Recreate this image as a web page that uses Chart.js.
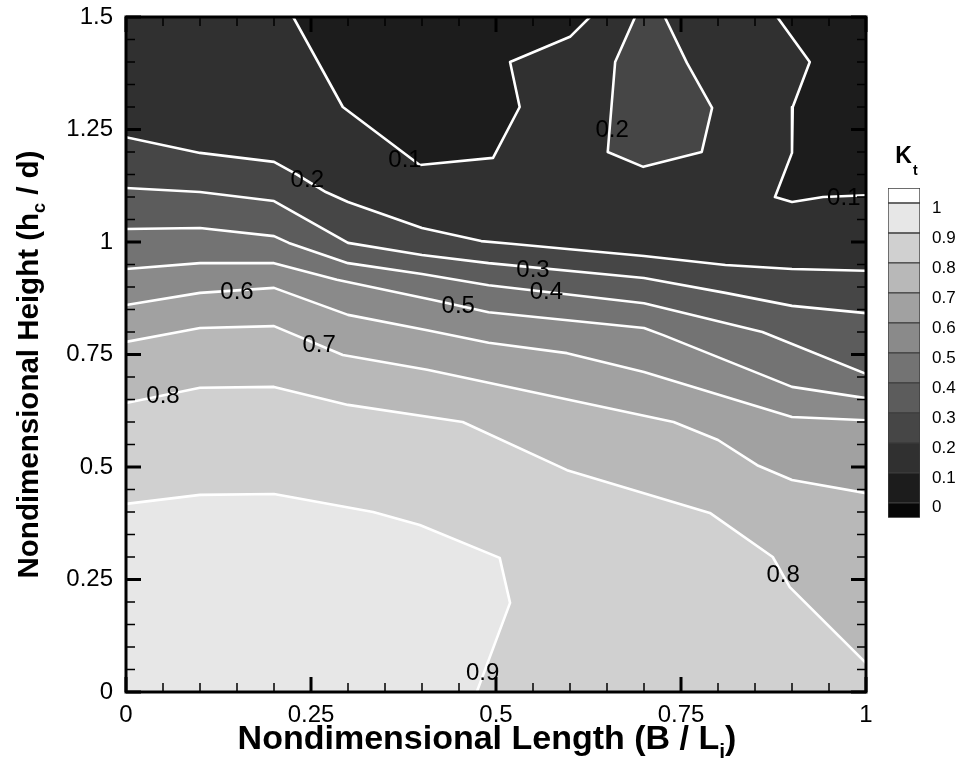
<!DOCTYPE html>
<html>
<head>
<meta charset="utf-8">
<script src="https://cdn.jsdelivr.net/npm/chart.js@4.4.1/dist/chart.umd.min.js"></script>
<style>
  html, body { margin: 0; padding: 0; background: #fff; }
  #wrap { position: relative; width: 969px; height: 779px; }
  #plot { position: absolute; left: 0; top: 0; }
  #legend { position: absolute; left: 860px; top: 130px; }
</style>
</head>
<body>
<div id="wrap">
  <canvas id="plot" width="969" height="779"></canvas>
  <canvas id="legend" width="109" height="410"></canvas>
</div>
<script>
// axes
const X_MIN = 0, X_MAX = 1, Y_MIN = 0, Y_MAX = 1.5;
const xTickValues = [0, 0.25, 0.5, 0.75, 1];
const yTickValues = [0, 0.25, 0.5, 0.75, 1, 1.25, 1.5];
const minorStep = 0.05;

// K_t legend levels and the grey for each band (below 0 ... above 1)
const legendLevels = [0, 0.1, 0.2, 0.3, 0.4, 0.5, 0.6, 0.7, 0.8, 0.9, 1];
const LEG_MIN = -0.05, LEG_MAX = 1.05;
const bandColors = ['#070707', '#1c1c1c', '#303030', '#464646', '#5c5c5c', '#737373',
                    '#8a8a8a', '#a1a1a1', '#b8b8b8', '#d0d0d0', '#e7e7e7', '#ffffff'];

// contour lines (x = B/Li, y = hc/d)
const k01aX = [0.226, 0.293, 0.397, 0.496, 0.532, 0.519, 0.600, 0.627];
const k01aY = [1.5, 1.3, 1.171, 1.187, 1.3, 1.4, 1.456, 1.5];
const k01bX = [0.880, 0.924, 0.901, 0.900, 0.877, 0.900, 0.942, 1];
const k01bY = [1.5, 1.4, 1.3, 1.198, 1.1, 1.089, 1.1, 1.104];
const k02aX = [0, 0.10, 0.20, 0.23, 0.27, 0.30, 0.40, 0.48, 0.52, 0.60, 0.70, 0.81, 0.90, 1];
const k02aY = [1.233, 1.198, 1.178, 1.151, 1.111, 1.089, 1.031, 1.002, 0.996, 0.984, 0.969, 0.949, 0.940, 0.936];
const k02bX = [0.688, 0.661, 0.651, 0.699, 0.778, 0.792, 0.758, 0.728];
const k02bY = [1.5, 1.4, 1.2, 1.167, 1.2, 1.298, 1.398, 1.5];
const k03X = [0, 0.10, 0.20, 0.30, 0.40, 0.49, 0.70, 0.81, 0.90, 1];
const k03Y = [1.12, 1.111, 1.091, 0.998, 0.971, 0.953, 0.92, 0.887, 0.858, 0.842];
const k04X = [0, 0.10, 0.20, 0.22, 0.30, 0.40, 0.49, 0.70, 0.86, 1];
const k04Y = [1.029, 1.031, 1.013, 0.998, 0.953, 0.929, 0.904, 0.864, 0.80, 0.707];
const k05X = [0, 0.10, 0.20, 0.285, 0.415, 0.49, 0.70, 0.726, 0.90, 1];
const k05Y = [0.94, 0.953, 0.953, 0.916, 0.871, 0.844, 0.809, 0.793, 0.678, 0.653];
const k06X = [0, 0.10, 0.20, 0.30, 0.407, 0.49, 0.596, 0.70, 0.90, 1];
const k06Y = [0.86, 0.887, 0.898, 0.838, 0.804, 0.776, 0.753, 0.711, 0.611, 0.604];
const k07X = [0, 0.10, 0.20, 0.293, 0.407, 0.49, 0.74, 0.80, 0.853, 0.90, 1];
const k07Y = [0.778, 0.809, 0.813, 0.749, 0.716, 0.687, 0.60, 0.56, 0.504, 0.471, 0.442];
const k08X = [0, 0.10, 0.20, 0.30, 0.455, 0.596, 0.789, 0.874, 0.897, 1];
const k08Y = [0.642, 0.676, 0.678, 0.638, 0.60, 0.493, 0.398, 0.30, 0.233, 0.064];
const k09X = [0, 0.10, 0.20, 0.334, 0.397, 0.505, 0.519, 0.474];
const k09Y = [0.418, 0.438, 0.44, 0.40, 0.371, 0.298, 0.198, 0];

// contour labels
const labelText = ['0.1', '0.2', '0.1', '0.2', '0.3', '0.4', '0.5', '0.6', '0.7', '0.8', '0.8', '0.9'];
const labelX = [0.377, 0.657, 0.970, 0.245, 0.550, 0.568, 0.449, 0.150, 0.261, 0.050, 0.888, 0.482];
const labelY = [1.182, 1.247, 1.096, 1.136, 0.938, 0.889, 0.856, 0.889, 0.771, 0.656, 0.260, 0.042];

const FONT = "'Liberation Sans', Arial, Helvetica, sans-serif";

function pts(xs, ys) { return xs.map((x, i) => ({x: x, y: ys[i]})); }

// region below a line that crosses the plot from left to right
function below(xs, ys) {
  return pts(xs, ys).concat([{x: X_MAX, y: Y_MIN}, {x: X_MIN, y: Y_MIN}]);
}

function region(data, color, order) {
  return {data: data, backgroundColor: color, borderWidth: 0, fill: 'shape',
          pointRadius: 0, tension: 0, order: order};
}
function contour(xs, ys) {
  return {data: pts(xs, ys), borderColor: '#ffffff', borderWidth: 2.6, fill: false,
          pointRadius: 0, tension: 0, order: 1, borderJoinStyle: 'round'};
}

const datasets = [
  region([{x: X_MIN, y: Y_MIN}, {x: X_MAX, y: Y_MIN}, {x: X_MAX, y: Y_MAX}, {x: X_MIN, y: Y_MAX}], bandColors[2], 100),
  region(below(k02aX, k02aY), bandColors[3], 99),
  region(below(k03X, k03Y), bandColors[4], 98),
  region(below(k04X, k04Y), bandColors[5], 97),
  region(below(k05X, k05Y), bandColors[6], 96),
  region(below(k06X, k06Y), bandColors[7], 95),
  region(below(k07X, k07Y), bandColors[8], 94),
  region(below(k08X, k08Y), bandColors[9], 93),
  region(pts(k09X, k09Y).concat([{x: X_MIN, y: Y_MIN}]), bandColors[10], 92),
  region(pts(k01aX, k01aY), bandColors[1], 91),
  region(pts(k01bX, k01bY).concat([{x: X_MAX, y: Y_MAX}]), bandColors[1], 91),
  region(pts(k02bX, k02bY), bandColors[3], 91),
  contour(k01aX, k01aY), contour(k01bX, k01bY),
  contour(k02aX, k02aY), contour(k02bX, k02bY),
  contour(k03X, k03Y), contour(k04X, k04Y), contour(k05X, k05Y),
  contour(k06X, k06Y), contour(k07X, k07Y), contour(k08X, k08Y), contour(k09X, k09Y)
];

// draws text pieces, some as subscripts, centred on (cx, cy)
function drawRich(ctx, parts, cx, cy, size, rotate) {
  const main = 'bold ' + size + 'px ' + FONT;
  const sub = 'bold ' + Math.round(size * 0.62) + 'px ' + FONT;
  ctx.save();
  ctx.translate(cx, cy);
  if (rotate) ctx.rotate(-Math.PI / 2);
  let total = 0;
  for (const p of parts) {
    ctx.font = p.sub ? sub : main;
    p.w = ctx.measureText(p.text).width;
    total += p.w;
  }
  let x = -total / 2;
  const base = size * 0.36;
  ctx.fillStyle = '#000';
  ctx.textAlign = 'left';
  ctx.textBaseline = 'alphabetic';
  for (const p of parts) {
    ctx.font = p.sub ? sub : main;
    ctx.fillText(p.text, x, p.sub ? base + size * 0.25 : base);
    x += p.w;
  }
  ctx.restore();
}

const plotDecor = {
  id: 'plotDecor',
  afterDatasetsDraw(chart) {
    const {ctx, scales: {x, y}} = chart;
    ctx.save();
    ctx.font = '24px ' + FONT;
    ctx.fillStyle = '#000';
    ctx.textAlign = 'center';
    ctx.textBaseline = 'middle';
    labelText.forEach((t, i) => {
      ctx.fillText(t, x.getPixelForValue(labelX[i]), y.getPixelForValue(labelY[i]));
    });
    ctx.restore();
  },
  afterDraw(chart) {
    const {ctx, chartArea: a, scales: {x, y}} = chart;
    ctx.save();
    ctx.strokeStyle = '#000';
    ctx.lineCap = 'butt';
    const nx = Math.round((X_MAX - X_MIN) / minorStep);
    const ny = Math.round((Y_MAX - Y_MIN) / minorStep);
    function tick(px, isX, major) {
      const len = major ? 15 : 9;
      ctx.lineWidth = major ? 3 : 1.5;
      ctx.beginPath();
      if (isX) {
        ctx.moveTo(px, a.bottom); ctx.lineTo(px, a.bottom - len);
        ctx.moveTo(px, a.top); ctx.lineTo(px, a.top + len);
      } else {
        ctx.moveTo(a.left, px); ctx.lineTo(a.left + len, px);
        ctx.moveTo(a.right, px); ctx.lineTo(a.right - len, px);
      }
      ctx.stroke();
    }
    for (let i = 0; i <= nx; i++) {
      const v = X_MIN + i * minorStep;
      const major = xTickValues.some(t => Math.abs(t - v) < 1e-6);
      tick(x.getPixelForValue(v), true, major);
    }
    for (let i = 0; i <= ny; i++) {
      const v = Y_MIN + i * minorStep;
      const major = yTickValues.some(t => Math.abs(t - v) < 1e-6);
      tick(y.getPixelForValue(v), false, major);
    }
    ctx.lineWidth = 3;
    ctx.strokeRect(a.left, a.top, a.right - a.left, a.bottom - a.top);
    ctx.restore();

    drawRich(ctx, [{text: 'Nondimensional Length (B / L'}, {text: 'i', sub: true}, {text: ')'}],
             (a.left + a.right) / 2 - 9, 737, 34, false);
    drawRich(ctx, [{text: 'Nondimensional Height (h'}, {text: 'c', sub: true}, {text: ' / d)'}],
             27, (a.top + a.bottom) / 2 + 10, 29.5, true);
  }
};

new Chart(document.getElementById('plot'), {
  type: 'line',
  data: {datasets: datasets},
  options: {
    responsive: false,
    animation: false,
    layout: {padding: {left: 0, right: 103, top: 17, bottom: 0}},
    plugins: {legend: {display: false}, tooltip: {enabled: false}},
    scales: {
      x: {
        type: 'linear', min: X_MIN, max: X_MAX, position: 'bottom',
        grid: {display: false, drawTicks: false}, border: {display: false},
        afterBuildTicks: s => { s.ticks = xTickValues.map(v => ({value: v})); },
        afterFit: s => { s.height = 87; s.paddingLeft = 0; s.paddingRight = 0; },
        ticks: {padding: 9, color: '#000', font: {size: 24, family: FONT}, maxRotation: 0,
                callback: v => String(v)}
      },
      y: {
        type: 'linear', min: Y_MIN, max: Y_MAX,
        grid: {display: false, drawTicks: false}, border: {display: false},
        afterBuildTicks: s => { s.ticks = yTickValues.map(v => ({value: v})); },
        afterFit: s => { s.width = 126; s.paddingTop = 0; s.paddingBottom = 0; },
        ticks: {padding: 13, color: '#000', font: {size: 24, family: FONT},
                callback: v => String(v)}
      }
    }
  },
  plugins: [plotDecor]
});

// colour legend
const bandLow = [LEG_MIN].concat(legendLevels);
const bandHigh = legendLevels.concat([LEG_MAX]);

const legendTitle = {
  id: 'legendTitle',
  afterDraw(chart) {
    const {ctx, chartArea: a} = chart;
    ctx.save();
    ctx.fillStyle = '#000';
    ctx.textBaseline = 'alphabetic';
    ctx.font = 'bold 23px ' + FONT;
    const kw = ctx.measureText('K').width;
    ctx.font = 'bold 14px ' + FONT;
    const tw = ctx.measureText('t').width;
    const x0 = (a.left + a.right) / 2 + 2 - (kw + tw) / 2;
    ctx.font = 'bold 23px ' + FONT;
    ctx.fillText('K', x0, a.top - 25);
    ctx.font = 'bold 14px ' + FONT;
    ctx.fillText('t', x0 + kw + 1, a.top - 13);
    ctx.restore();
  }
};

new Chart(document.getElementById('legend'), {
  type: 'bar',
  data: {
    labels: ['Kt'],
    datasets: bandColors.map((c, i) => ({
      data: [[bandLow[i], bandHigh[i]]],
      backgroundColor: c, borderColor: '#3c3c3c', borderWidth: 1, borderSkipped: false,
      barPercentage: 1, categoryPercentage: 1, grouped: false
    }))
  },
  options: {
    responsive: false,
    animation: false,
    layout: {padding: {left: 28, top: 58, bottom: 19, right: 0}},
    plugins: {legend: {display: false}, tooltip: {enabled: false}},
    scales: {
      x: {display: false},
      y: {
        position: 'right', min: LEG_MIN, max: LEG_MAX,
        grid: {display: false, drawTicks: false}, border: {display: false},
        afterBuildTicks: s => { s.ticks = legendLevels.map(v => ({value: v})); },
        afterFit: s => { s.width = 49; },
        ticks: {padding: 12, labelOffset: 5, color: '#000', font: {size: 17, family: FONT},
                callback: v => String(v)}
      }
    }
  },
  plugins: [legendTitle]
});
</script>
</body>
</html>
